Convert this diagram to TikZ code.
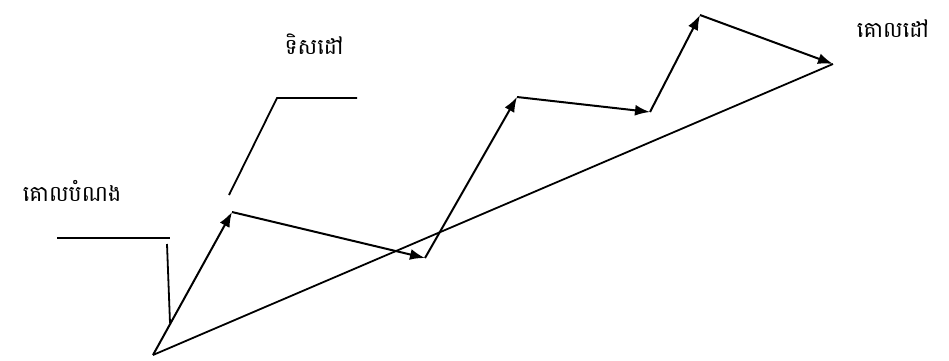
\documentclass[tikz,border=0pt]{standalone}
\usepackage{fontspec}
\newfontfamily\khmer[Script=Khmer]{Battambang}
\usetikzlibrary{arrows.meta}
\begin{document}
\begin{tikzpicture}[x=1pt,y=-1pt,
  vec/.style={line width=2pt,-{Latex[length=15pt,width=11pt]}},
  ln/.style={line width=1.8pt},
  lbl/.style={font=\khmer\fontsize{22}{26}\selectfont,inner sep=0pt}]
\useasboundingbox (0,0) rectangle (949,360);
\coordinate (S) at (153,355);
\coordinate (P1) at (232,212);
\coordinate (P2) at (425,258);
\coordinate (P3) at (517,97);
\coordinate (P4) at (650,112);
\coordinate (P5) at (700,15);
\coordinate (E) at (833,64);
\draw[ln] (S) -- (E);
\draw[vec] (S) -- (P1);
\draw[vec] (P1) -- (P2);
\draw[vec] (P2) -- (P3);
\draw[vec] (P3) -- (P4);
\draw[vec] (P4) -- (P5);
\draw[vec] (P5) -- (E);
% leaders
\coordinate (La) at (57,238);
\coordinate (Lb) at (170,238);
\coordinate (Lc) at (167,244);
\coordinate (Ld) at (170,323);
\draw[ln] (La) -- (Lb);
\draw[ln] (Lc) -- (Ld);
\coordinate (Ua) at (229,195);
\coordinate (Ub) at (277,98);
\coordinate (Uc) at (357,98);
\draw[ln] (Ua) -- (Ub) -- (Uc);
\node[lbl] (goal) at (72,191) {គោលបំណង};
\node[lbl] (dir) at (314,44) {ទិសដៅ};
\node[lbl] (target) at (893,29) {គោលដៅ};
\end{tikzpicture}
\end{document}
